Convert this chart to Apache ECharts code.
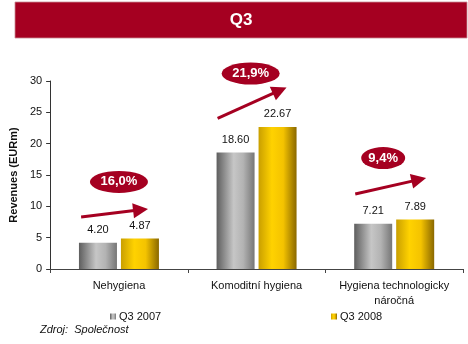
<!DOCTYPE html>
<html>
<head>
<meta charset="utf-8">
<script src="https://cdn.jsdelivr.net/npm/echarts@6/dist/echarts.min.js"></script>
<style>
  html, body { margin: 0; padding: 0; background: #ffffff; }
  #chart { width: 468px; height: 344px; }
</style>
</head>
<body>
<div id="chart"></div>
<script>
// Revenue by segment, Q3 2007 vs Q3 2008 (EURm)
const categories = ['Nehygiena', 'Komoditní hygiena', 'Hygiena technologicky\nnáročná'];
const seriesNames = ['Q3 2007', 'Q3 2008'];
const q3_2007 = [4.20, 18.60, 7.21];
const q3_2008 = [4.87, 22.67, 7.89];
const yTicks = { min: 0, max: 30, step: 5 };

// Growth arrows and badges, in data space of a hidden 0..3 category-span axis
const arrowStart = [[0.225, 8.30], [1.217, 24.05], [2.217, 11.97]];
const arrowEnd = [[0.657, 9.44], [1.668, 28.49], [2.679, 14.26]];
const badgeCenter = [[0.50, 13.9], [1.457, 31.2], [2.42, 17.7]];

const growthLabels = q3_2007.map((v, i) =>
  ((q3_2008[i] / v - 1) * 100).toFixed(1).replace('.', ',') + '%');

const FONT = '"Liberation Sans", Arial, sans-serif';
const RED = '#A50021';

const grayFill = new echarts.graphic.LinearGradient(0, 0, 1, 0, [
  { offset: 0, color: '#5e5e5e' },
  { offset: 0.45, color: '#c6c6c6' },
  { offset: 0.7, color: '#b3b3b3' },
  { offset: 1, color: '#767676' }
]);
const goldFill = new echarts.graphic.LinearGradient(0, 0, 1, 0, [
  { offset: 0, color: '#c99f00' },
  { offset: 0.35, color: '#ffd200' },
  { offset: 0.65, color: '#f4c300' },
  { offset: 1, color: '#8a6800' }
]);

const valueLabel = {
  show: true,
  position: 'top',
  distance: 7,
  color: '#111',
  fontFamily: FONT,
  fontSize: 11,
  formatter: p => p.value.toFixed(2)
};

const chart = echarts.init(document.getElementById('chart'), null, { renderer: 'canvas' });

chart.setOption({
  animation: false,
  backgroundColor: '#ffffff',
  textStyle: { fontFamily: FONT },
  graphic: [
    {
      type: 'rect',
      shape: { x: 15, y: 2, width: 452, height: 36 },
      style: { fill: RED, stroke: '#c98a96', lineWidth: 0.8 },
      z: 0
    },
    {
      type: 'text',
      x: 241, y: 20,
      style: {
        text: 'Q3', fill: '#ffffff', font: 'bold 17px ' + FONT,
        textAlign: 'center', textVerticalAlign: 'middle'
      },
      z: 1
    },
    {
      type: 'text',
      x: 40, y: 330,
      style: {
        text: 'Zdroj:  Společnost', fill: '#111', font: 'italic 11px ' + FONT,
        textAlign: 'left', textVerticalAlign: 'middle'
      }
    }
  ],
  legend: [
    {
      data: [seriesNames[0]], left: 105, top: 306,
      itemWidth: 6, itemHeight: 6, itemGap: 0,
      icon: 'rect',
      textStyle: { fontSize: 11, color: '#111', fontFamily: FONT, padding: [0, 0, 0, -2] }
    },
    {
      data: [seriesNames[1]], left: 326, top: 306,
      itemWidth: 6, itemHeight: 6, itemGap: 0,
      icon: 'rect',
      textStyle: { fontSize: 11, color: '#111', fontFamily: FONT, padding: [0, 0, 0, -2] }
    }
  ],
  grid: { left: 49, right: 5, top: 81, bottom: 75, containLabel: false },
  xAxis: [
    {
      type: 'category',
      data: categories,
      boundaryGap: true,
      axisLine: { lineStyle: { color: '#444', width: 1 } },
      axisTick: { show: true, length: 4, lineStyle: { color: '#444' } },
      axisLabel: {
        color: '#111', fontSize: 11, fontFamily: FONT, margin: 9,
        lineHeight: 15, interval: 0
      }
    },
    {
      type: 'value', min: 0, max: 3, show: false
    }
  ],
  yAxis: {
    type: 'value',
    min: yTicks.min, max: yTicks.max, interval: yTicks.step,
    name: 'Revenues (EURm)',
    nameLocation: 'middle',
    nameGap: 31,
    nameTextStyle: { fontWeight: 'bold', fontSize: 11, color: '#111', fontFamily: FONT },
    axisLine: { show: true, lineStyle: { color: '#333', width: 1 } },
    axisTick: { show: true, length: 4, lineStyle: { color: '#333' } },
    axisLabel: { color: '#111', fontSize: 11, fontFamily: FONT, margin: 8 },
    splitLine: { show: false }
  },
  series: [
    {
      name: seriesNames[0], type: 'bar', data: q3_2007,
      barWidth: 38, barGap: '10.5%',
      itemStyle: { color: grayFill },
      label: valueLabel
    },
    {
      name: seriesNames[1], type: 'bar', data: q3_2008,
      barWidth: 38, barGap: '10.5%',
      itemStyle: { color: goldFill },
      label: valueLabel
    },
    {
      type: 'lines',
      coordinateSystem: 'cartesian2d',
      xAxisIndex: 1, yAxisIndex: 0,
      clip: false,
      silent: true,
      symbol: ['none', 'triangle'],
      symbolSize: [13, 15],
      lineStyle: { color: RED, width: 3, opacity: 1, curveness: 0 },
      data: arrowStart.map((s, i) => ({ coords: [s, arrowEnd[i]] })),
      z: 5
    },
    {
      type: 'scatter',
      xAxisIndex: 1, yAxisIndex: 0,
      clip: false,
      silent: true,
      data: badgeCenter.map((c, i) => ({ value: c, name: growthLabels[i] })),
      symbol: 'circle',
      symbolSize: (val, p) => [14 * growthLabels[p.dataIndex].length - 12, 22],
      itemStyle: { color: RED, opacity: 1 },
      label: {
        show: true, position: 'inside', formatter: p => p.name,
        color: '#ffffff', fontWeight: 'bold', fontSize: 13, fontFamily: FONT
      },
      z: 6
    }
  ]
});
</script>
</body>
</html>
